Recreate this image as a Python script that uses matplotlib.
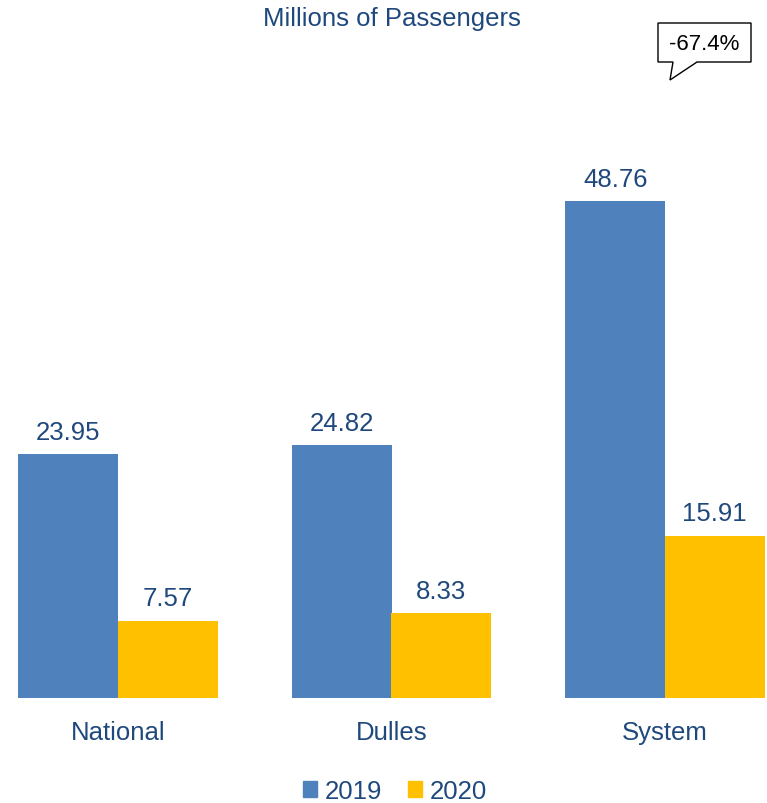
import numpy as np
import matplotlib.pyplot as plt
from matplotlib.patches import Patch, Polygon

plt.rcParams['font.family'] = ['Liberation Sans', 'DejaVu Sans']

categories = ["National", "Dulles", "System"]
years = ["2019", "2020"]
pax_2019 = [23.95, 24.82, 48.76]
pax_2020 = [7.57, 8.33, 15.91]
change_label = "-67.4%"

blue = "#4F81BD"
gold = "#FFC000"
txt = "#1F497D"

W, H = 767, 804
fig = plt.figure(figsize=(W / 100, H / 100), dpi=100)
# axes spans full width, bottom at the bar baseline
ax = fig.add_axes([0, (H - 699) / H, 1, (699 - 100) / H])

x = np.arange(len(categories))
bw = 0.364
b1 = ax.bar(x - bw / 2, pax_2019, bw, color=blue, label=years[0])
b2 = ax.bar(x + bw / 2, pax_2020, bw, color=gold, label=years[1])

ax.set_xlim((0 - 118) / 273.5, (767 - 118) / 273.5)
ax.set_ylim(0, (699 - 100) / 10.19)

for bars, vals in [(b1, pax_2019), (b2, pax_2020)]:
    for r, v in zip(bars, vals):
        ax.annotate(f"{v:.2f}", (r.get_x() + r.get_width() / 2, v),
                    xytext=(0, 7.5), textcoords="offset points",
                    ha="center", va="bottom", fontsize=18.5, color=txt)

ax.set_xticks(x)
ax.set_xticklabels(categories, fontsize=18.5, color=txt)
ax.tick_params(axis="x", length=0, pad=16)
ax.set_yticks([])
for s in ax.spines.values():
    s.set_visible(False)

fig.text(392 / W, 1 - 19 / H, "Millions of Passengers", ha="center", va="center",
         fontsize=18.5, color=txt)

# callout box
pts = [(658, 24), (751, 24), (751, 63), (697, 63), (670, 81), (673, 63), (658, 63)]
poly = Polygon([(px / W, 1 - py / H) for px, py in pts], closed=True,
               transform=fig.transFigure, facecolor="white", edgecolor="black", lw=1)
fig.add_artist(poly)
fig.text(704.5 / W, 1 - 44 / H, change_label, ha="center", va="center", fontsize=16, color="black")

handles = [Patch(color=blue, label=years[0]), Patch(color=gold, label=years[1])]
fig.legend(handles=handles, loc="center", bbox_to_anchor=(395 / W, 12 / H), ncol=2,
           frameon=False, fontsize=18.5, handlelength=0.55, handleheight=0.55,
           handletextpad=0.3, columnspacing=1.0, labelcolor=txt)

fig.savefig("out.png", dpi=100)
